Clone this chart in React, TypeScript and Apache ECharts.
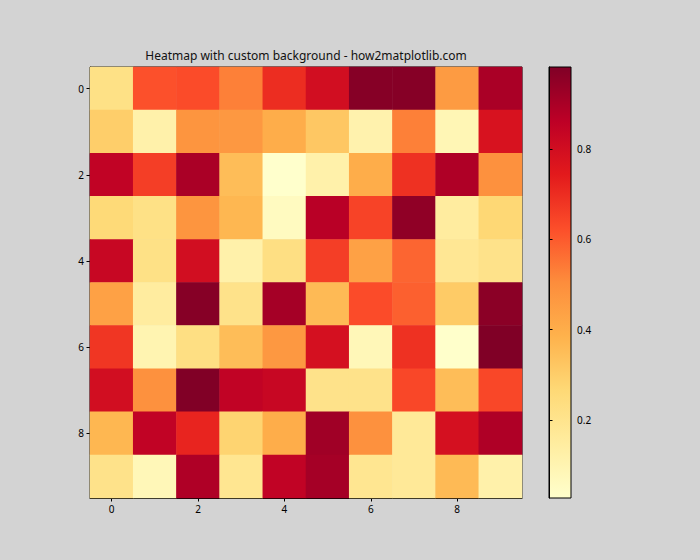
import React, { useEffect, useRef } from "react";
import * as echarts from "echarts";

const xCategories = ["0", "1", "2", "3", "4", "5", "6", "7", "8", "9"];
const yCategories = ["0", "1", "2", "3", "4", "5", "6", "7", "8", "9"];

const row0 = [0.22, 0.62, 0.63, 0.53, 0.7, 0.8, 0.97, 0.97, 0.46, 0.9];
const row1 = [0.3, 0.12, 0.48, 0.47, 0.4, 0.32, 0.11, 0.53, 0.09, 0.78];
const row2 = [0.85, 0.66, 0.9, 0.35, 0.027, 0.12, 0.4, 0.69, 0.89, 0.49];
const row3 = [0.26, 0.22, 0.48, 0.37, 0.06, 0.87, 0.65, 0.95, 0.15, 0.27];
const row4 = [0.83, 0.22, 0.8, 0.12, 0.23, 0.66, 0.44, 0.58, 0.18, 0.21];
const row5 = [0.44, 0.15, 0.97, 0.21, 0.91, 0.36, 0.63, 0.59, 0.31, 0.96];
const row6 = [0.68, 0.1, 0.23, 0.35, 0.47, 0.79, 0.08, 0.69, 0.03, 0.982];
const row7 = [0.8, 0.49, 0.98, 0.85, 0.83, 0.21, 0.21, 0.64, 0.35, 0.64];
const row8 = [0.37, 0.85, 0.72, 0.28, 0.4, 0.92, 0.49, 0.17, 0.79, 0.89];
const row9 = [0.21, 0.08, 0.89, 0.19, 0.85, 0.91, 0.19, 0.17, 0.36, 0.12];
const rows = [row0, row1, row2, row3, row4, row5, row6, row7, row8, row9];

const colorbarTicks = [0.2, 0.4, 0.6, 0.8];
const ylOrRd = ["#ffffcc", "#ffeda0", "#fed976", "#feb24c", "#fd8d3c", "#fc4e2a", "#e31a1c", "#bd0026", "#800026"];

export default function App() {
  const ref = useRef<HTMLDivElement>(null);
  useEffect(() => {
    if (!ref.current) return;
    const chart = echarts.init(ref.current, undefined, { renderer: "svg" });
    const all = rows.flat();
    const vmin = Math.min(...all);
    const vmax = Math.max(...all);
    const data: number[][] = [];
    rows.forEach((r, y) => r.forEach((v, x) => data.push([x, y, v])));
    const font = "Noto Sans";
    const gradient = new echarts.graphic.LinearGradient(
      0, 1, 0, 0,
      ylOrRd.map((c, i) => ({ offset: i / (ylOrRd.length - 1), color: c }))
    );
    chart.setOption({
      animation: false,
      backgroundColor: "#d3d3d3",
      textStyle: { fontFamily: font },
      title: {
        text: "Heatmap with custom background - how2matplotlib.com",
        left: 301,
        top: 44,
        textAlign: "center",
        textStyle: { fontFamily: font, fontSize: 12, fontWeight: "normal", color: "#111" },
      },
      grid: [
        { left: 90, top: 67, width: 432, height: 431, show: true, borderColor: "#000", borderWidth: 1, backgroundColor: "transparent" },
        { left: 549, top: 67, width: 22, height: 431, show: true, borderColor: "#000", borderWidth: 1, backgroundColor: gradient },
      ],
      xAxis: [
        {
          type: "category",
          gridIndex: 0,
          data: xCategories,
          position: "bottom",
          axisLine: { show: true, lineStyle: { color: "#000" } },
          axisTick: { show: true, interval: 1, alignWithLabel: true, length: 3.5, lineStyle: { color: "#000" } },
          axisLabel: { interval: 1, fontSize: 10, color: "#000", margin: 6, fontFamily: font },
          splitLine: { show: false },
        },
        { type: "value", gridIndex: 1, show: false, min: 0, max: 1 },
      ],
      yAxis: [
        {
          type: "category",
          gridIndex: 0,
          data: yCategories,
          inverse: true,
          axisLine: { show: true, lineStyle: { color: "#000" } },
          axisTick: { show: true, interval: 1, alignWithLabel: true, length: 3.5, lineStyle: { color: "#000" } },
          axisLabel: { interval: 1, fontSize: 10, color: "#000", margin: 6, fontFamily: font },
          splitLine: { show: false },
        },
        {
          type: "value",
          gridIndex: 1,
          min: vmin,
          max: vmax,
          position: "right",
          axisLine: { show: true, lineStyle: { color: "#000" } },
          axisTick: { show: true, length: 3.5, customValues: colorbarTicks, lineStyle: { color: "#000" } },
          axisLabel: {
            customValues: colorbarTicks,
            fontSize: 10,
            color: "#000",
            margin: 6,
            fontFamily: font,
            formatter: (v: number) => v.toFixed(1),
          },
          splitLine: { show: false },
        },
      ],
      visualMap: {
        show: false,
        type: "continuous",
        min: vmin,
        max: vmax,
        seriesIndex: 0,
        dimension: 2,
        inRange: { color: ylOrRd },
      },
      series: [
        {
          type: "heatmap",
          xAxisIndex: 0,
          yAxisIndex: 0,
          data,
          itemStyle: { borderWidth: 0 },
          emphasis: { disabled: true },
        },
      ],
    });
    return () => chart.dispose();
  }, []);
  return <div ref={ref} style={{ position: "fixed", left: 0, top: 0, width: 700, height: 560 }} />;
}
